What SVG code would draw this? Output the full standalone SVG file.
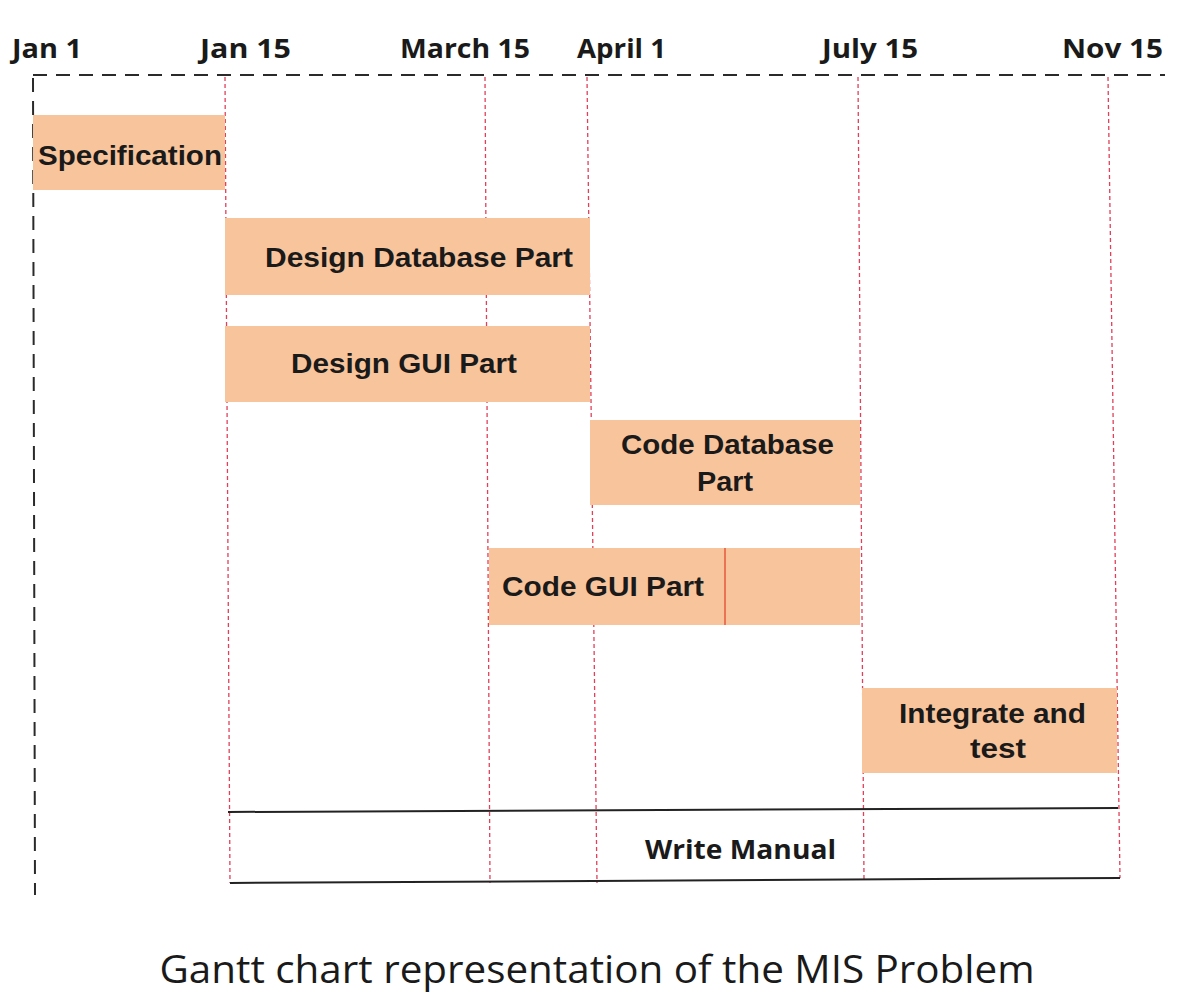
<svg xmlns="http://www.w3.org/2000/svg" width="1186" height="1001" viewBox="0 0 1186 1001">
  <style>
    .date { font-family: "Open Sans", "Liberation Sans", sans-serif; font-weight: 700; font-size: 27px; fill: #1a1a1a; }
    .task { font-family: "Liberation Sans", Arial, sans-serif; font-weight: 700; font-size: 27px; fill: #1a1a1a; }
    .bar { fill: #f8c49c; }
    .mile { stroke: #e0405a; stroke-width: 1.3; stroke-dasharray: 4 3; fill: none; }
    .axis { stroke: #2a2a2a; stroke-width: 2; stroke-dasharray: 14 9; fill: none; }
    .frame { stroke: #222; stroke-width: 2; fill: none; }
  </style>
  <rect width="1186" height="1001" fill="#ffffff"/>

  <!-- axis and milestone guides, drawn beneath the bars -->
  <g id="connectors">
    <line class="axis" x1="33" y1="75" x2="1165" y2="75"/>
    <line class="axis" x1="33" y1="78" x2="35" y2="895"/>
    <line class="mile" x1="225" y1="77" x2="230" y2="883"/>
    <line class="mile" x1="485" y1="77" x2="490" y2="883"/>
    <line class="mile" x1="587" y1="77" x2="597" y2="883"/>
    <line class="mile" x1="858" y1="77" x2="864" y2="880"/>
    <line class="mile" x1="1108" y1="77" x2="1120" y2="878"/>
  </g>

  <!-- date labels -->
  <g id="dates">
    <text class="date" x="12" y="58" textLength="70" lengthAdjust="spacingAndGlyphs">Jan 1</text>
    <text class="date" x="200" y="58" textLength="91" lengthAdjust="spacingAndGlyphs">Jan 15</text>
    <text class="date" x="400" y="58" textLength="130" lengthAdjust="spacingAndGlyphs">March 15</text>
    <text class="date" x="577" y="58" textLength="89" lengthAdjust="spacingAndGlyphs">April 1</text>
    <text class="date" x="822" y="58" textLength="96" lengthAdjust="spacingAndGlyphs">July 15</text>
    <text class="date" x="1062" y="58" textLength="101" lengthAdjust="spacingAndGlyphs">Nov 15</text>
  </g>

  <!-- task bars -->
  <g id="specification">
    <rect class="bar" x="33" y="115" width="192" height="75"/>
    <text class="task" x="38" y="165" textLength="184" lengthAdjust="spacingAndGlyphs">Specification</text>
  </g>
  <g id="design-database">
    <rect class="bar" x="225" y="218" width="365" height="77"/>
    <text class="task" x="265" y="267" textLength="308" lengthAdjust="spacingAndGlyphs">Design Database Part</text>
  </g>
  <g id="design-gui">
    <rect class="bar" x="225" y="326" width="365" height="76"/>
    <text class="task" x="291" y="373" textLength="226" lengthAdjust="spacingAndGlyphs">Design GUI Part</text>
  </g>
  <g id="code-database">
    <rect class="bar" x="590" y="420" width="270" height="85"/>
    <text class="task" x="621" y="454" textLength="213" lengthAdjust="spacingAndGlyphs">Code Database</text>
    <text class="task" x="697" y="491" textLength="56" lengthAdjust="spacingAndGlyphs">Part</text>
  </g>
  <g id="code-gui">
    <rect class="bar" x="489" y="548" width="371" height="77"/>
    <line x1="725" y1="548" x2="725" y2="625" stroke="#e4583a" stroke-width="1.5"/>
    <text class="task" x="502" y="596" textLength="202" lengthAdjust="spacingAndGlyphs">Code GUI Part</text>
  </g>
  <g id="integrate-test">
    <rect class="bar" x="862" y="688" width="255" height="85"/>
    <text class="task" x="899" y="723" textLength="187" lengthAdjust="spacingAndGlyphs">Integrate and</text>
    <text class="task" x="970" y="758" textLength="56" lengthAdjust="spacingAndGlyphs">test</text>
  </g>
  <g id="write-manual">
    <line class="frame" x1="228" y1="812" x2="1118" y2="808"/>
    <line class="frame" x1="230" y1="883" x2="1120" y2="878"/>
    <text x="645" y="859" font-family="'Open Sans', 'Liberation Sans', sans-serif" font-weight="700" font-size="27" fill="#1a1a1a" textLength="191" lengthAdjust="spacingAndGlyphs">Write Manual</text>
  </g>

  <text x="597" y="983" text-anchor="middle" font-family="'Open Sans', 'Liberation Sans', sans-serif" font-size="38" fill="#1a1a1a" textLength="875" lengthAdjust="spacingAndGlyphs">Gantt chart representation of the MIS Problem</text>
</svg>
